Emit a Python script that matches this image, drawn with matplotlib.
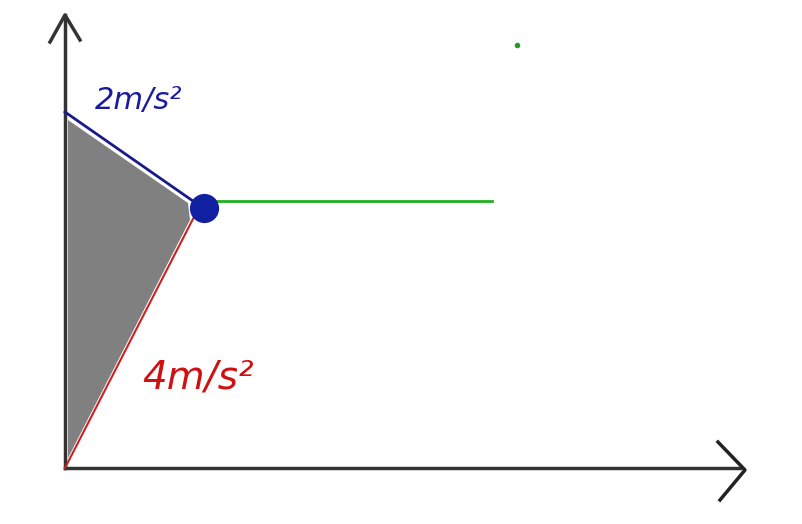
import matplotlib
matplotlib.use("Agg")
import matplotlib.pyplot as plt

# sketch coordinates (pixel-like units, y grows downward)
origin = (65, 468)
y_axis_top = 15
x_axis_end = 745

blue_x = [65, 203]
blue_y = [112, 208]
red_x = [65, 195]
red_y = [468, 215]
green_x = [215, 492]
green_y = [201, 201]
dot = (204, 208)
green_dot = (517, 45)

shade_x = [68, 188, 190, 68]
shade_y = [120, 203, 220, 458]

label_blue = "2m/s²"
label_red = "4m/s²"

fig = plt.figure(figsize=(8.03, 5.24), dpi=100)
ax = fig.add_axes([0, 0, 1, 1])
ax.set_xlim(0, 803)
ax.set_ylim(524, 0)
ax.axis("off")

# shaded area
ax.fill(shade_x, shade_y, color="#808080", lw=0)

# axes
ax.plot([origin[0], origin[0]], [origin[1], y_axis_top], color="#333333", lw=2.5)
ax.plot([50, 65, 80], [42, y_axis_top, 40], color="#333333", lw=2.5)
ax.plot([origin[0], x_axis_end - 5], [origin[1], origin[1]], color="#333333", lw=2.5)
ax.plot([718, x_axis_end, 720], [442, 470, 500], color="#222222", lw=2.5)

# lines
ax.plot(blue_x, blue_y, color="#1a1a8c", lw=2)
ax.plot(red_x, red_y, color="#cc2020", lw=1.5)
ax.plot(green_x, green_y, color="#20b020", lw=2)
ax.plot(*dot, "o", color="#1020a0", ms=20)
ax.plot(*green_dot, "o", color="#20a020", ms=3)

# labels
ax.text(95, 100, label_blue, color="#1a1aa0", fontsize=22, style="italic",
        va="center", ha="left")
ax.text(142, 378, label_red, color="#d01010", fontsize=28, style="italic",
        va="center", ha="left")

fig.savefig("out.png", dpi=100)
